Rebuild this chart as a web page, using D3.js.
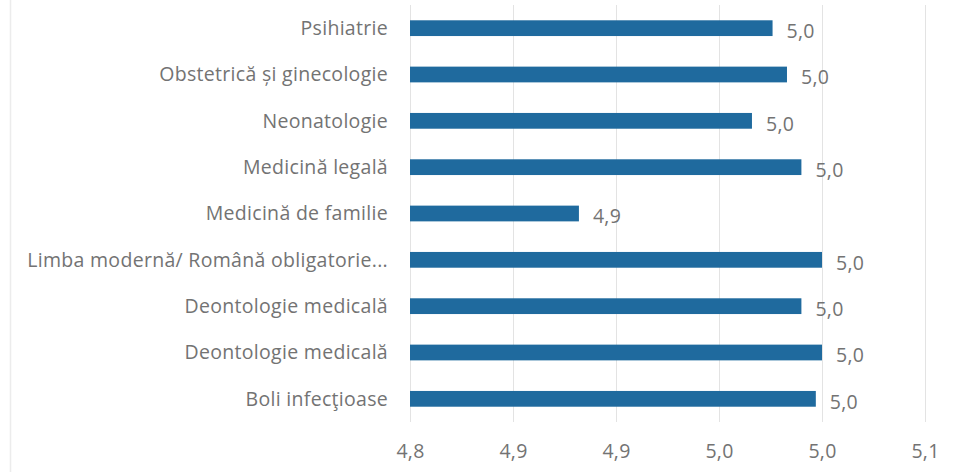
<!DOCTYPE html>
<html>
<head>
<meta charset="utf-8">
<script src="https://cdn.jsdelivr.net/npm/d3@7"></script>
<style>
  body { margin: 0; background: #fff; }
  svg { display: block; font-family: "Open Sans", Lato, sans-serif; }
</style>
</head>
<body>
<div id="chart"></div>
<script>
var categories = ['Psihiatrie', 'Obstetrică și ginecologie', 'Neonatologie', 'Medicină legală',
  'Medicină de familie', 'Limba modernă/ Română obligatorie...', 'Deontologie medicală',
  'Deontologie medicală', 'Boli infecţioase']
var values = [4.976, 4.983, 4.966, 4.990, 4.882, 5.000, 4.990, 5.000, 4.997]
var tickValues = [4.80, 4.85, 4.90, 4.95, 5.00, 5.05]
var tickLabels = ['4,8', '4,9', '4,9', '5,0', '5,0', '5,1']

var width = 965, height = 472
var plotLeft = 410, plotRight = 925, plotTop = 5, plotBottom = 422
var textColor = '#737373', fontSize = '19.5px', spacing = '0.3px'

var svg = d3.select('#chart').append('svg').attr('width', width).attr('height', height)

// faint chart border on the left
svg.append('line').attr('x1', 10.5).attr('x2', 10.5).attr('y1', 0).attr('y2', height)
  .style('stroke', '#ececec').style('stroke-width', 1.5)

var x = d3.scaleLinear().domain([4.80, 5.05]).range([plotLeft, plotRight])
// band index as key since two categories share the same name
var y = d3.scaleBand().domain(d3.range(categories.length)).range([plotTop, plotBottom])
  .paddingInner(0.66).paddingOuter(0.33)

// gridlines
svg.append('g').selectAll('line').data(tickValues).enter().append('line')
  .attr('x1', d => Math.round(x(d)) + 0.5).attr('x2', d => Math.round(x(d)) + 0.5)
  .attr('y1', plotTop).attr('y2', plotBottom)
  .style('stroke', '#e3e3e3').style('stroke-width', 1)

// x axis labels
var xAxis = d3.axisBottom(x).tickValues(tickValues).tickSize(0).tickPadding(0)
  .tickFormat((d, i) => tickLabels[i])
var xg = svg.append('g').attr('transform', 'translate(0,444)').call(xAxis)
xg.select('.domain').remove()
xg.selectAll('text').style('font-size', fontSize).style('fill', textColor)
  .style('letter-spacing', spacing).style('font-family', '"Open Sans", sans-serif')

// bars
svg.append('g').selectAll('rect').data(values).enter().append('rect')
  .attr('x', plotLeft).attr('y', (d, i) => y(i))
  .attr('width', d => x(d) - plotLeft).attr('height', y.bandwidth())
  .style('fill', '#1f6a9e')

// category labels
svg.append('g').selectAll('text').data(categories).enter().append('text')
  .attr('x', plotLeft - 22).attr('y', (d, i) => y(i) + y.bandwidth() / 2)
  .attr('dy', '0.35em').attr('text-anchor', 'end')
  .style('font-size', fontSize).style('fill', textColor).style('letter-spacing', spacing)
  .text(d => d)

// value labels
var fmt = d3.format('.1f')
svg.append('g').selectAll('text').data(values).enter().append('text')
  .attr('x', d => x(d) + 14).attr('y', (d, i) => y(i) + y.bandwidth() / 2 + 3)
  .attr('dy', '0.35em')
  .style('font-size', fontSize).style('fill', textColor).style('letter-spacing', spacing)
  .text(d => fmt(d).replace('.', ','))
</script>
</body>
</html>
